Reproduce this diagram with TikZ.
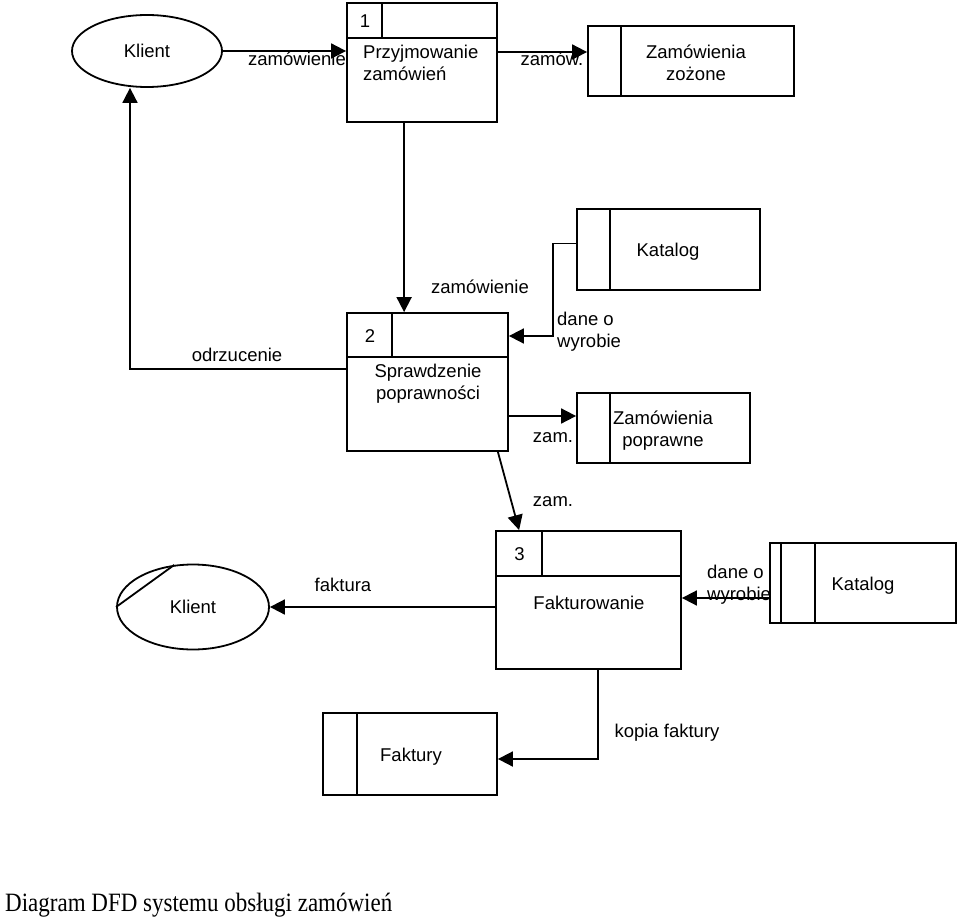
\documentclass[tikz,border=0pt]{standalone}
\usepackage{fontspec}
\setmainfont{Liberation Sans}
\newfontfamily\capfont{Liberation Serif}
\usetikzlibrary{shapes.geometric,arrows.meta,calc}
\begin{document}
\begin{tikzpicture}[x=1pt,y=-1pt,
  every node/.style={font=\fontsize{18.5}{22}\selectfont, inner sep=0pt},
  box/.style={draw, rectangle, line width=1.8pt},
  ent/.style={draw, ellipse, line width=1.8pt},
  lnk/.style={line width=1.8pt},
  arr/.style={line width=1.8pt, -{Triangle[length=15pt,width=15pt]}},
  lbl/.style={align=center},
  lbll/.style={align=left, anchor=west}]
\useasboundingbox (0,0) rectangle (960,920);

% nodes
\node[ent, minimum width=150, minimum height=72] (k1) at (147,51) {Klient};
\node[box, minimum width=150, minimum height=119] (p1) at (422,62.5) {};
\node[box, minimum width=206, minimum height=70] (s1) at (691,61) {};
\node[box, minimum width=161, minimum height=138] (p2) at (427.5,382) {};
\node[box, minimum width=183, minimum height=81] (kat1) at (668.5,249.5) {};
\node[box, minimum width=173, minimum height=70] (s2) at (663.5,428) {};
\node[box, minimum width=185, minimum height=138] (p3) at (588.5,600) {};
\node[box, minimum width=186, minimum height=80] (kat2) at (863,583) {};
\node[ent, minimum width=152, minimum height=85] (k2) at (193,607) {Klient};
\node[box, minimum width=174, minimum height=82] (fak) at (410,754) {};

% inner lines of processes
\draw[lnk] ($(p1.north west)+(0,36)$) -- ($(p1.north east)+(0,36)$);
\draw[lnk] ($(p1.north west)+(36,0)$) -- ($(p1.north west)+(36,36)$);
\draw[lnk] ($(p2.north west)+(0,45)$) -- ($(p2.north east)+(0,45)$);
\draw[lnk] ($(p2.north west)+(46,0)$) -- ($(p2.north west)+(46,45)$);
\draw[lnk] ($(p3.north west)+(0,46)$) -- ($(p3.north east)+(0,46)$);
\draw[lnk] ($(p3.north west)+(47,0)$) -- ($(p3.north west)+(47,46)$);
% inner lines of stores
\draw[lnk] ($(s1.north west)+(34,0)$) -- ($(s1.south west)+(34,0)$);
\draw[lnk] ($(kat1.north west)+(34,0)$) -- ($(kat1.south west)+(34,0)$);
\draw[lnk] ($(s2.north west)+(34,0)$) -- ($(s2.south west)+(34,0)$);
\draw[lnk] ($(kat2.north west)+(12,0)$) -- ($(kat2.south west)+(12,0)$);
\draw[lnk] ($(kat2.north west)+(46,0)$) -- ($(kat2.south west)+(46,0)$);
\draw[lnk] ($(fak.north west)+(35,0)$) -- ($(fak.south west)+(35,0)$);
% duplicate marker on second Klient
\draw[lnk] (k2.west) -- (k2.114);

% texts
\node (n1) at (365,21) {1};
\node[lbll] (t1) at (363,63) {Przyjmowanie\\zamówień};
\node[lbl] (ts1) at (696,63) {Zamówienia\\zożone};
\node (n2) at (370,336) {2};
\node[lbl] (t2) at (428,384) {Sprawdzenie\\poprawności};
\node (tk1) at (668,252) {Katalog};
\node[lbl] (ts2) at (663,431) {Zamówienia\\poprawne};
\node (n3) at (519.5,554) {3};
\node (t3) at (589,603) {Fakturowanie};
\node (tk2) at (863,586) {Katalog};
\node (tf) at (411,757) {Faktury};

% flow labels
\node (l1) at (297,59) {zamówienie};
\node (l2) at (552,59) {zamów.};
\node (l3) at (480,287) {zamówienie};
\node[lbll] (l4) at (557,332) {dane o\\wyrobie};
\node (l5) at (553,438) {zam.};
\node (l6) at (553,502) {zam.};
\node (l7) at (237,355) {odrzucenie};
\node[lbll] (l8) at (707,585) {dane o\\wyrobie};
\node (l9) at (343,585) {faktura};
\node (l10) at (667,733) {kopia faktury};

% connectors
\draw[arr] (k1.east) -- (p1.west |- k1.east);
\coordinate (c0) at ($(s1.west)+(0,-9)$);
\draw[arr] (p1.east |- c0) -- (c0);
\draw[arr] ($(p1.south west)+(58,0)$) -- ($(p2.north west)+(58,0)$);
\coordinate (c1) at (130,369);
\draw[arr] (p2.west |- c1) -- (c1) -- (c1 |- k1.south);
\coordinate (c2) at (553,336);
\draw[arr] ($(kat1.west)+(0,-6)$) -| (c2) -- (p2.east |- c2);
\coordinate (c3) at ($(s2.west)+(0,-12)$);
\draw[arr] (p2.east |- c3) -- (c3);
\draw[arr] ($(p2.south east)+(-11,0)$) -- ($(p3.north west)+(24,0)$);
\coordinate (c4) at ($(kat2.west)+(0,15)$);
\draw[arr] (c4) -- (p3.east |- c4);
\draw[arr] (p3.west |- k2.east) -- (k2.east);
\coordinate (c5) at ($(p3.south west)+(103,0)$);
\draw[arr] (c5) |- ($(fak.east)+(0,5)$);

% caption
\node[anchor=south west, font=\capfont\fontsize{23}{26}\selectfont] (cap) at (5,917) {\scalebox{1}[1.15]{Diagram DFD systemu obsługi zamówień}};
\end{tikzpicture}
\end{document}
